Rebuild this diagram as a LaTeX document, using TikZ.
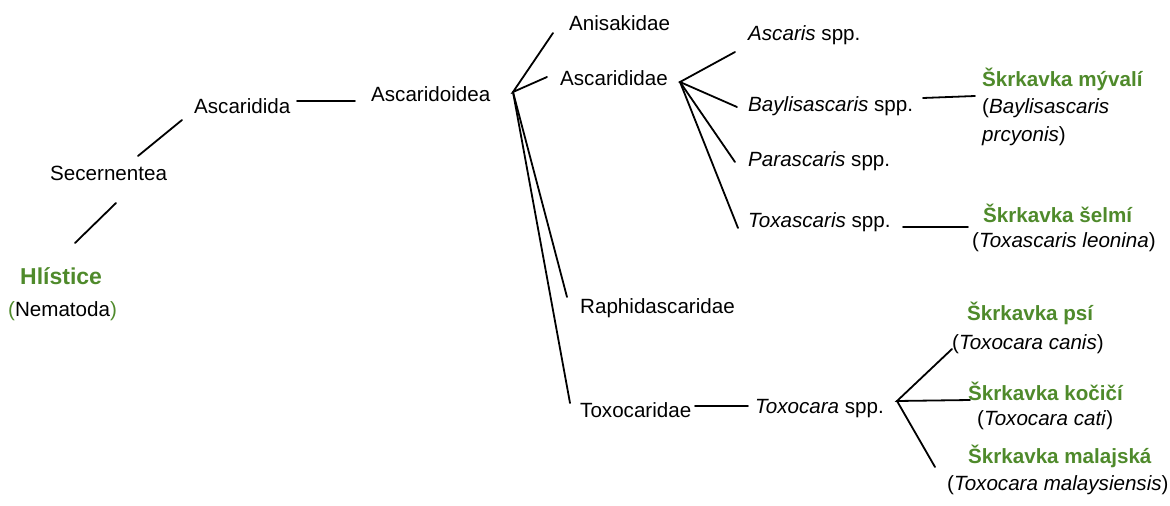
\documentclass[tikz,border=0pt]{standalone}
\usepackage{fontspec}
\setmainfont{Liberation Sans}
\definecolor{grn}{RGB}{79,138,43}
\begin{document}
\begin{tikzpicture}[x=1pt,y=-1pt,
  every node/.style={inner sep=0pt, anchor=west, font=\fontsize{20.6}{24}\selectfont},
  gr/.style={text=grn, font=\fontsize{20.6}{24}\selectfont\bfseries},
  ln/.style={line width=1.8pt, line cap=round}]
\useasboundingbox (0,0) rectangle (1170,506);
% nodes
\node (hl) [gr, font=\fontsize{23}{27}\selectfont\bfseries] at (20,276) {Hlístice};
\node (nem) at (8,311) {\textcolor{grn}{(}Nematoda\textcolor{grn}{)}};
\node (sec) at (50,173) {Secernentea};
\node (asd) at (194,106) {Ascaridida};
\node (asdo) at (371,94) {Ascaridoidea};
\node (anis) at (569,23) {Anisakidae};
\node (ascd) at (560,78) {Ascarididae};
\node (raph) at (580,308) {Raphidascaridae};
\node (toxd) at (580,410) {Toxocaridae};
\node (ascs) at (748,35) {\textit{Ascaris} spp.};
\node (bays) at (748,106) {\textit{Baylisascaris} spp.};
\node (pars) at (748,161) {\textit{Parascaris} spp.};
\node (toxs) at (748,222) {\textit{Toxascaris} spp.};
\node (tcs) at (755,409) {\textit{Toxocara} spp.};
\node (myv) [gr] at (982,79) {Škrkavka mývalí};
\node (myvL) at (982,108) {(\textit{Baylisascaris}};
\node (myvL2) at (982,136) {\textit{prcyonis})};
\node (sel) [gr] at (983,213) {Škrkavka šelmí};
\node (selL) at (972,242) {(\textit{Toxascaris leonina})};
\node (psi) [gr] at (967,313) {Škrkavka psí};
\node (psiL) at (952,344) {(\textit{Toxocara canis})};
\node (koc) [gr] at (968,391) {Škrkavka kočičí};
\node (kocL) at (977,420) {(\textit{Toxocara cati})};
\node (mal) [gr] at (968,456) {Škrkavka malajská};
\node (malL) at (947,485) {(\textit{Toxocara malaysiensis})};
% connector end points
\coordinate (e1a) at (75,243);  \coordinate (e1b) at (116,203);
\coordinate (e2a) at (138,156); \coordinate (e2b) at (182,120);
\coordinate (e3a) at (297,101); \coordinate (e3b) at (355,101);
\coordinate (b1) at (513,92);
\coordinate (b1a) at (553,33); \coordinate (b1b) at (547,77);
\coordinate (b1c) at (567,297); \coordinate (b1d) at (570,403);
\coordinate (b2) at (680,82);
\coordinate (b2a) at (735,52); \coordinate (b2b) at (737,107);
\coordinate (b2c) at (735,162); \coordinate (b2d) at (738,228);
\coordinate (e4a) at (923,98); \coordinate (e4b) at (975,96);
\coordinate (e5a) at (903,227); \coordinate (e5b) at (968,227);
\coordinate (e6a) at (695,406); \coordinate (e6b) at (748,406);
\coordinate (b3) at (897,401);
\coordinate (b3a) at (952,349); \coordinate (b3b) at (970,400); \coordinate (b3c) at (935,467);
% connectors
\draw[ln] (e1a) -- (e1b);
\draw[ln] (e2a) -- (e2b);
\draw[ln] (e3a) -- (e3b);
\draw[ln] (b1a) -- (b1) -- (b1b);
\draw[ln] (b1) -- (b1c);
\draw[ln] (b1) -- (b1d);
\draw[ln] (b2a) -- (b2) -- (b2b);
\draw[ln] (b2) -- (b2c);
\draw[ln] (b2) -- (b2d);
\draw[ln] (e4a) -- (e4b);
\draw[ln] (e5a) -- (e5b);
\draw[ln] (e6a) -- (e6b);
\draw[ln] (b3a) -- (b3) -- (b3b);
\draw[ln] (b3) -- (b3c);
\end{tikzpicture}
\end{document}
